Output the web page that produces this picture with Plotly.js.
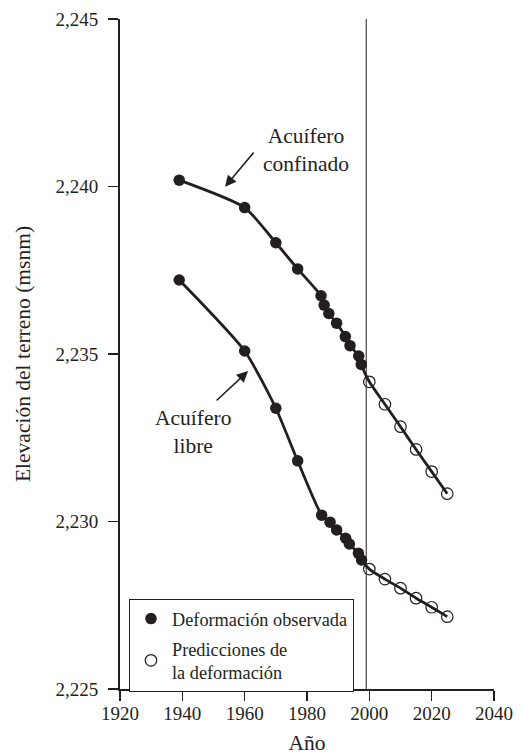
<!DOCTYPE html>
<html>
<head>
<meta charset="utf-8">
<script src="https://cdn.plot.ly/plotly-3.0.1.min.js"></script>
<style>html,body{margin:0;padding:0;background:#fff;}#chart{width:522px;height:755px;}</style>
</head>
<body>
<div id="chart"></div>
<script>
// Observed and predicted land elevation (m a.s.l.)
var confYearsObs = [1939, 1960, 1970, 1977, 1984.5, 1985.5, 1987, 1989.5, 1992.3, 1993.8, 1996.6, 1997.4];
var confElevObs  = [2240.19, 2239.37, 2238.32, 2237.54, 2236.74, 2236.46, 2236.21, 2235.92, 2235.52, 2235.25, 2234.94, 2234.69];
var libreYearsObs = [1939, 1960, 1970, 1977, 1984.7, 1987.4, 1989.5, 1992.4, 1993.6, 1996.5, 1997.5];
var libreElevObs  = [2237.21, 2235.09, 2233.38, 2231.81, 2230.19, 2229.98, 2229.75, 2229.50, 2229.33, 2229.05, 2228.85];
var predYears = [2000, 2005, 2010, 2015, 2020, 2025];
var confElevPred  = [2234.17, 2233.50, 2232.83, 2232.15, 2231.49, 2230.83];
var libreElevPred = [2228.58, 2228.28, 2228.01, 2227.71, 2227.44, 2227.16];
var dividerYear = 1999;
var xTicks = [1920, 1940, 1960, 1980, 2000, 2020, 2040];
var yTicks = [2225, 2230, 2235, 2240, 2245];

var FONT = 'Liberation Serif, DejaVu Serif';
var INK = '#231f20';

function lineTrace(xs, ys) {
  return {x: xs, y: ys, mode: 'lines', line: {color: INK, width: 2.8, shape: 'spline', smoothing: 0.6},
          showlegend: false, hoverinfo: 'skip'};
}
var traces = [
  lineTrace(confYearsObs.concat(predYears), confElevObs.concat(confElevPred)),
  lineTrace(libreYearsObs.concat(predYears), libreElevObs.concat(libreElevPred)),
  {x: confYearsObs, y: confElevObs, mode: 'markers', name: 'Deformación observada', legendgroup: 'obs',
   marker: {symbol: 'circle', size: 11.5, color: INK}},
  {x: libreYearsObs, y: libreElevObs, mode: 'markers', name: 'Deformación observada', legendgroup: 'obs', showlegend: false,
   marker: {symbol: 'circle', size: 11.5, color: INK}},
  {x: predYears, y: confElevPred, mode: 'markers', name: 'Predicciones de<br>la deformación', legendgroup: 'pred',
   marker: {symbol: 'circle-open', size: 11.5, color: INK, line: {width: 1.2, color: INK}}},
  {x: predYears, y: libreElevPred, mode: 'markers', name: 'Predicciones de<br>la deformación', legendgroup: 'pred', showlegend: false,
   marker: {symbol: 'circle-open', size: 11.5, color: INK, line: {width: 1.2, color: INK}}}
];

var layout = {
  width: 522, height: 755,
  margin: {l: 120, r: 28, t: 19, b: 66},
  paper_bgcolor: '#fff', plot_bgcolor: '#fff',
  font: {family: FONT, color: INK},
  showlegend: true,
  legend: {x: 0.024, y: 0.134, xanchor: 'left', yanchor: 'top', bgcolor: '#fff',
           bordercolor: INK, borderwidth: 1, font: {family: FONT, size: 18.3, color: INK},
           tracegroupgap: 3, itemwidth: 32},
  xaxis: {range: [1920, 2040], tickvals: xTicks, ticks: 'outside', ticklen: 10, tickwidth: 1.5, tickcolor: INK,
          showline: true, linewidth: 2, linecolor: INK, showgrid: false, zeroline: false,
          tickfont: {family: FONT, size: 19, color: INK}, ticklabelstandoff: -4,
          title: {text: 'Año', font: {family: FONT, size: 21.5, color: INK}, standoff: 15}},
  yaxis: {range: [2225, 2245], tickvals: yTicks, tickformat: ',', ticks: 'outside', ticklen: 10, tickwidth: 1.5, tickcolor: INK,
          showline: true, linewidth: 2, linecolor: INK, showgrid: false, zeroline: false,
          tickfont: {family: FONT, size: 19, color: INK}, ticklabelstandoff: 6,
          title: {text: 'Elevación del terreno (msnm)', font: {family: FONT, size: 21.5, color: INK}, standoff: 19}},
  shapes: [{type: 'line', xref: 'x', yref: 'paper', x0: dividerYear, x1: dividerYear, y0: 0, y1: 1,
            line: {color: INK, width: 1}}],
  annotations: [
    {x: 1979.8, y: 2241.1, xref: 'x', yref: 'y', text: 'Acuífero<br>confinado', showarrow: false,
     font: {family: FONT, size: 21.5, color: INK}},
    {x: 1943.4, y: 2232.67, xref: 'x', yref: 'y', text: 'Acuífero<br>libre', showarrow: false,
     font: {family: FONT, size: 21.5, color: INK}},
    {x: 1953.7, y: 2239.99, ax: 1963.3, ay: 2241.06, xref: 'x', yref: 'y', axref: 'x', ayref: 'y',
     text: '', showarrow: true, arrowhead: 2, arrowsize: 1.4, arrowwidth: 1.6, arrowcolor: INK},
    {x: 1961.1, y: 2234.49, ax: 1950.5, ay: 2233.57, xref: 'x', yref: 'y', axref: 'x', ayref: 'y',
     text: '', showarrow: true, arrowhead: 2, arrowsize: 1.4, arrowwidth: 1.6, arrowcolor: INK}
  ]
};
Plotly.newPlot('chart', traces, layout, {displayModeBar: false, staticPlot: true});
</script>
</body>
</html>
